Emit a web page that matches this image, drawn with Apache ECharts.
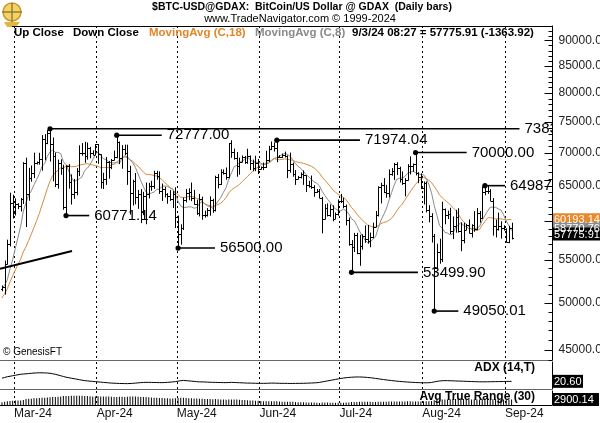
<!DOCTYPE html>
<html><head><meta charset="utf-8">
<script src="https://cdn.jsdelivr.net/npm/echarts@6/dist/echarts.min.js"></script>
<style>html,body{margin:0;padding:0;background:#fff}#c{width:600px;height:423px}</style>
</head><body><div id="c"></div>
<script>
// ---------------- DATA ----------------
const startDate = '2024-02-25'; // first daily bar, one bar per calendar day
const opens = [51570,51730,54490,57050,62500,
61170,62430,62030,63140,68300,63780,66100,66900,68300,68490,69000,72100,71480,73080,71400,69400,65300,68400,67600,61930,67900,65500,63780,64050,67200,69960,69990,69450,70770,69900,69650,
71300,69700,65460,65970,68500,67840,68900,69360,71620,69140,70630,70000,67130,63900,65700,63420,63800,61280,63470,63800,64950,64930,66820,66400,64280,64500,63770,63460,63100,63840,
60610,58250,59120,62890,63890,64030,63160,62310,61190,63070,60800,60820,61480,62930,61560,66270,65230,67030,66920,66270,71440,70140,69140,67930,68550,69290,68500,69400,68360,67630,68360,
67520,67750,67760,68810,70560,71080,70790,69350,69310,69650,69510,67320,68240,66760,66000,66190,66640,66490,65150,64950,64840,64100,64240,63210,60300,61800,60840,61650,60330,60950,
62720,62840,62020,60200,57040,56630,58230,55850,56700,57990,57700,57340,57890,59200,60800,64750,65050,64090,63970,66700,67150,68170,67570,65920,65370,65780,67900,67880,68260,66800,66200,
64620,65350,61500,60700,58100,54020,56040,55100,61700,60890,60920,58720,59350,60600,58730,57540,58900,59480,58440,59490,59030,61170,60380,64090,64170,64230,62850,59400,59000,59370,59100,
58950,57320,59139.83];
const highs = [51950,54940,57570,63970,63680,
63160,62480,63220,68510,69200,67630,68000,69980,68600,69950,72800,72950,73650,73835.57,72400,70000,68900,68940,68100,68030,68200,66650,65970,67600,71150,71500,71700,71600,70900,70350,71350,
71350,69700,66900,69300,68700,69000,70300,72777,71750,71170,71250,71240,67950,65870,66870,64370,64480,64100,65450,65400,65700,67200,67200,67100,65300,64800,63900,64350,64200,64750,
60780,59600,63300,64500,64600,65450,64380,62980,63800,63400,61450,61800,63450,63100,66450,66700,67420,67400,67700,71500,71950,70620,70080,69200,69550,69480,70600,69550,68900,69500,69000,
67850,68440,70280,71060,71750,71600,71974.04,69580,69850,70150,69560,69990,68440,67300,66400,66950,67250,66490,65700,66480,65050,64500,64500,63370,62350,62450,62300,62200,61190,63000,
63800,63250,62300,60500,57520,58450,58460,58200,58280,59450,59500,58500,59800,61400,64900,65400,66100,65100,67400,67600,68370,68500,67800,67100,66100,68200,69400,68300,70000,66990,66800,
65600,65600,62200,61100,58300,57050,57700,62700,61750,61450,61850,60650,61550,61780,59850,59800,59650,60250,59600,61380,61800,61400,64850,64987,64950,64480,63200,60230,61170,60000,59450,
59060,59400,59800];
const lows = [51280,50900,54450,56700,60370,
60790,61650,61330,62370,59220,62820,65570,66100,68140,68120,67200,68800,71330,68600,65630,64780,64550,66600,61570,60771.14,64550,62300,63100,63600,66400,69500,68400,68900,69100,69590,69600,
68250,64550,64500,65100,66000,67450,68800,69100,68200,67500,69580,65100,60900,62150,62330,61700,59750,60830,59600,63150,64250,64520,65860,63800,62800,63300,62400,62800,61800,59100,
56500,56930,58830,62600,62900,62770,62280,60860,60650,60200,60500,60630,60750,61140,61330,64600,65100,66620,65860,66060,69180,68900,66300,66600,68500,68240,68250,67300,67120,67130,66700,
67390,67300,67610,68550,70380,70150,68500,69200,69150,69230,66100,66900,66300,65100,65900,66050,65100,64060,64700,64520,63380,63950,63200,58400,60250,60650,60600,60000,60300,60750,
62500,61780,59450,56800,53499.90,56000,55730,54300,56300,57170,57050,56600,57760,59200,60650,62450,63900,63250,63300,66450,65800,66550,65450,65100,63450,65740,66650,67050,66500,65350,64500,
62300,61200,59850,57200,49050.01,53950,54550,54750,59600,60300,58300,57650,58480,58500,56100,57100,58800,58400,57850,58600,58800,59800,60350,63600,63800,62800,58100,57860,58750,57700,58750,
57200,57120,57600];
const closes = [51730,54490,57050,62500,61170,
62430,62030,63140,68300,63780,66100,66900,68300,68490,69000,72100,71480,73080,71400,69400,65300,68400,67600,61930,67900,65500,63780,64050,67200,69960,69990,69450,70770,69900,69650,71300,
69700,65460,65970,68500,67840,68900,69360,71620,69140,70630,70000,67130,63900,65700,63420,63800,61280,63470,63800,64950,64930,66820,66400,64280,64500,63770,63460,63100,63840,60610,
58250,59120,62890,63890,64030,63160,62310,61190,63070,60800,60820,61480,62930,61560,66270,65230,67030,66920,66270,71440,70140,69140,67930,68550,69290,68500,69400,68360,67630,68360,67520,
67750,67760,68810,70560,71080,70790,69350,69310,69650,69510,67320,68240,66760,66000,66190,66640,66490,65150,64950,64840,64100,64240,63210,60300,61800,60840,61650,60330,60950,62720,
62840,62020,60200,57040,56630,58230,55850,56700,57990,57700,57340,57890,59200,60800,64750,65050,64090,63970,66700,67150,68170,67570,65920,65370,65780,67900,67880,68260,66800,66200,64620,
65350,61500,60700,58100,54020,56040,55100,61700,60890,60920,58720,59350,60600,58730,57540,58900,59480,58440,59490,59030,61170,60380,64090,64170,64230,62850,59400,59000,59370,59100,58950,
57320,59139.83,57775.91];
const ma18 = [50510,51020,51570,52380,53100,
53790,54480,55110,56020,56660,57470,58290,59200,60100,61060,62210,63360,64560,65650,66480,66940,67270,67620,67600,67920,68050,67800,67820,67880,68050,68140,68200,68290,68170,68070,67970,
67880,67660,67700,67700,67710,68100,68180,68520,68820,69190,69340,69180,68850,68640,68230,67890,67430,66990,66660,66630,66580,66480,66400,66150,65880,65440,65120,64710,64360,64000,
63690,63320,63290,63300,63450,63430,63350,63140,63040,62700,62390,62240,62150,62030,62180,62300,62480,62830,63280,63960,64360,64660,64870,65170,65560,65970,66320,66740,67120,67500,67750,
68100,68180,68380,68570,68810,69060,68940,68890,68920,69010,68940,68880,68790,68600,68480,68420,68320,68190,68030,67870,67610,67260,66820,66240,65820,65350,64900,64390,64040,63730,
63510,63290,62960,62430,61880,61490,60990,60540,60200,59830,59510,59370,59230,59230,59400,59660,59840,59910,60120,60400,60850,61430,61950,62350,62900,63520,64070,64660,65180,65640,65940,
66200,66020,65770,65440,64890,64300,63630,63270,62900,62620,62250,61890,61490,60980,60380,59940,59570,59230,58900,58760,58790,58920,59480,59930,60440,60500,60420,60310,60350,60330,60240,
60160,60250,60193.14];
const ma8 = [51670,51970,52630,53900,55070,
56460,57870,59320,61390,62550,63680,64230,65120,65880,66750,67870,68270,69430,70090,70410,70030,70020,69850,68570,68130,67180,66230,65560,65800,65990,66290,67230,67590,68140,68870,69780,
70090,69530,69030,68910,68540,68420,68380,68420,68350,69000,69500,69330,68840,68440,67690,66720,65730,64840,64060,63790,63920,64060,64430,64490,64890,64930,64890,64660,64520,63750,
62730,62080,61880,61900,61970,61970,61780,61860,62460,62670,62410,62110,61970,61770,62270,62770,63270,64030,64710,65960,66860,67810,68010,68430,68710,68910,69300,68910,68600,68500,68450,
68350,68160,68200,68340,68680,69080,69200,69430,69660,69880,69700,69410,68870,68270,67870,67540,67140,66600,66300,65880,65550,65330,64950,64160,63570,63040,62620,62060,61670,61480,
61430,61640,61440,60970,60340,60080,59440,58690,58080,57540,57190,57290,57610,57930,59050,60090,60850,61640,62810,63960,65090,65930,66080,66120,66330,66820,66970,67110,66940,66760,66600,
66600,66060,65160,63940,62160,60820,59430,59060,58510,58430,58190,58340,59170,59500,59810,59460,59280,58970,59070,59030,59100,59300,60120,60780,61380,61930,61920,61910,61690,61530,60880,
60030,59390,58770.76];
const adx = [27,28.5,30,31,32,
33,34,35,35.5,36,36.5,37,37.5,37.8,38,38,37.8,37.5,37,36,35,33.5,32,30.5,29,28,27,26,25,24,23,22,21.5,21,20.5,20,
19.5,19,18.5,18,17.5,17,16.8,16.5,16.3,16.2,16,16,16.2,16.5,17,17.5,18,18.3,18.5,18.5,18.4,18.3,18.2,18,18,18.2,18.5,19,19.5,20,
21,22,22.5,22,21.5,21,20.5,20,19.5,19.5,19.3,19,18.8,18.5,18.5,18.3,18.2,18,18,18.2,18.5,18.3,18,17.8,17.5,17.3,17,17,16.8,16.7,16.5,
16.5,16.5,16.6,16.8,17,17,16.8,16.6,16.5,16.5,16.4,16.3,16.3,16.4,16.5,16.5,16.6,16.8,17,17.2,17.5,17.8,18.5,19.5,20.5,21.5,22.5,23.5,24.5,25.5,
26.5,27.3,28,28.5,29,29.3,29.5,29.5,29.3,29,28.5,28,27.3,26.5,25.8,25,24.2,23.5,22.8,22.2,21.6,21,20.5,20,19.6,19.2,18.8,18.5,18.2,18,17.8,
17.7,17.6,17.8,18.3,19.5,20.5,21.3,21.8,22,22,21.8,21.6,21.4,21.2,21,20.8,20.6,20.4,20.2,20,19.8,19.7,19.6,19.6,19.7,19.8,19.9,20,20.1,20.2,20.3,
20.4,20.5,20.6];
const atr = [2100,2200,2350,2450,2550,
2600,2600,2650,2800,3100,3150,3200,3300,3300,3400,3450,3500,3550,3600,3700,3750,3800,3850,4000,4050,4050,4100,4100,4100,4100,4100,4050,4000,3950,3900,3900,
3950,3900,3900,3900,3850,3800,3750,3750,3800,3800,3750,3800,3900,3850,3850,3800,3750,3700,3700,3650,3550,3500,3450,3400,3400,3350,3300,3250,3250,3300,
3400,3450,3450,3400,3350,3300,3250,3250,3200,3150,3100,3100,3050,3000,3050,3000,2950,2900,2850,2950,2950,2900,2900,2850,2800,2750,2700,2650,2600,2550,2500,
2450,2400,2400,2400,2400,2350,2350,2300,2250,2200,2250,2250,2200,2150,2100,2050,2050,2000,1950,1950,1950,1900,1850,1950,1950,1950,1900,1900,1900,1900,
1900,1900,1950,2000,2150,2150,2150,2200,2200,2200,2200,2200,2150,2150,2250,2250,2250,2250,2300,2300,2300,2300,2300,2300,2300,2350,2350,2300,2300,2300,2300,
2350,2400,2400,2450,2700,2750,2800,2950,2950,2950,3000,3000,3050,3050,3050,3050,3000,3000,2950,2950,2950,2950,3000,2950,2950,2950,3000,3000,2950,2950,2900,
2900,2900,2900.14];
const monthStarts = ['2024-03-01','2024-04-01','2024-05-01','2024-06-01','2024-07-01','2024-08-01','2024-09-01'];
const priceTicks = [45000,50000,55000,60000,65000,70000,75000,80000,85000,90000];
// annotated extremes: date of bar, price, date where the leader line ends
const annDates  = ['2024-03-14','2024-03-20','2024-04-08','2024-05-01','2024-06-07','2024-07-05','2024-07-29','2024-08-05','2024-08-24'];
const annPrices = [73835.57,60771.14,72777.00,56500.00,71974.04,53499.90,70000.00,49050.01,64987.00];
const annEnds   = ['2024-09-06T11:00','2024-03-29T05:00','2024-04-25T09:00','2024-05-15T08:00','2024-07-08T16:00','2024-07-30T10:00','2024-08-17T16:00','2024-08-14T13:00','2024-09-01T01:00'];
const trendDates  = ['2024-02-24T18:00','2024-03-22T18:00'];
const trendPrices = [53920,56130];
const lastClose = 57775.91, lastAdx = 20.60, lastAtr = 2900.14;

// ---------------- CHART ----------------
const DAY = 864e5;
const utc = s => Date.parse(s.length > 10 ? s + ':00Z' : s + 'T00:00:00Z');
const t0 = utc(startDate);
const times = closes.map((_, i) => t0 + i * DAY + DAY / 2);
const mar1 = utc('2024-03-01');
const xMin = mar1 - 5.25 * DAY, xMax = mar1 + 201.65 * DAY;
const monthValues = monthStarts.map(utc);
const MONTHS = ['Jan','Feb','Mar','Apr','May','Jun','Jul','Aug','Sep','Oct','Nov','Dec'];
const fmtMonth = v => { const d = new Date(v); return MONTHS[d.getUTCMonth()] + '-' + String(d.getUTCFullYear()).slice(2); };
const FONT = '"Liberation Sans", Arial, sans-serif';

function xAxisDef(i, showLabels, lineColor) {
  return {
    type: 'value', gridIndex: i, min: xMin, max: xMax, scale: true,
    axisLine: { show: true, onZero: false, lineStyle: { color: lineColor, width: 1 } },
    axisTick: { show: false, customValues: monthValues },
    axisLabel: { show: showLabels, customValues: monthValues, formatter: v => fmtMonth(v), align: 'left',
      color: '#111', fontSize: 12, fontFamily: FONT, margin: 3, showMinLabel: true, showMaxLabel: true },
    splitLine: { show: true, lineStyle: { color: '#000', type: [2, 3], width: 1 } }
  };
}
function yAxisDef(i, type, min, max) {
  const a = { type, gridIndex: i, min, max, position: 'right',
    axisLine: { show: true, onZero: false, lineStyle: { color: '#000', width: 1 } },
    axisTick: { show: false }, axisLabel: { show: false }, splitLine: { show: false } };
  if (type === 'log') a.logBase = 10;
  return a;
}

function renderOHLC(params, api) {
  const t = api.value(0);
  const pO = api.coord([t, api.value(1)]);
  const pH = api.coord([t, api.value(2)]);
  const pL = api.coord([t, api.value(3)]);
  const pC = api.coord([t, api.value(4)]);
  const x = Math.round(pH[0]) + 0.5;
  const yo = Math.round(pO[1]) + 0.5, yc = Math.round(pC[1]) + 0.5;
  const style = { stroke: '#000', lineWidth: 1 };
  return { type: 'group', children: [
    { type: 'line', shape: { x1: x, y1: pH[1], x2: x, y2: pL[1] }, style },
    { type: 'line', shape: { x1: x - 1.5, y1: yo, x2: x, y2: yo }, style },
    { type: 'line', shape: { x1: x, y1: yc, x2: x + 1.5, y2: yc }, style }
  ]};
}
function renderAnn(params, api) {
  const p = api.coord([api.value(0), api.value(1)]);
  const e = api.coord([api.value(2), api.value(1)]);
  const label = annPrices[params.dataIndex].toFixed(2);
  return { type: 'group', children: [
    { type: 'line', shape: { x1: p[0], y1: p[1], x2: e[0], y2: p[1] }, style: { stroke: '#000', lineWidth: 1.6 } },
    { type: 'circle', shape: { cx: p[0], cy: p[1], r: 2.6 }, style: { fill: '#000' } },
    { type: 'text', x: e[0] + 5, y: p[1], style: { text: label, fill: '#000', font: '15px ' + FONT,
      align: 'left', verticalAlign: 'middle', textAlign: 'left', textVerticalAlign: 'middle' } }
  ]};
}

const chart = echarts.init(document.getElementById('c'), null, { renderer: 'canvas' });
const option = {
  animation: false,
  backgroundColor: '#fff',
  grid: [
    { left: 0, right: 48, top: 26, height: 334 },
    { left: 0, right: 48, top: 362, height: 27 },
    { left: 0, right: 48, top: 391, height: 14 }
  ],
  xAxis: [ xAxisDef(0, false, '#666'), xAxisDef(1, false, '#666'), xAxisDef(2, true, '#000') ],
  yAxis: [ yAxisDef(0, 'log', 43953, 92975), yAxisDef(1, 'value', 5, 60), yAxisDef(2, 'value', 1200, 5600) ],
  series: [
    { type: 'line', name: 'MA18', xAxisIndex: 0, yAxisIndex: 0, data: times.map((t, i) => [t, ma18[i]]),
      showSymbol: false, symbol: 'none', lineStyle: { color: '#d68a3c', width: 1 }, z: 3 },
    { type: 'line', name: 'MA8', xAxisIndex: 0, yAxisIndex: 0, data: times.map((t, i) => [t, ma8[i]]),
      showSymbol: false, symbol: 'none', lineStyle: { color: '#8a8a8a', width: 1 }, z: 3 },
    { type: 'custom', name: 'OHLC', xAxisIndex: 0, yAxisIndex: 0, renderItem: renderOHLC, clip: true,
      encode: { x: 0, y: [1, 2, 3, 4] }, data: times.map((t, i) => [t, opens[i], highs[i], lows[i], closes[i]]), z: 4 },
    { type: 'line', name: 'Trend', xAxisIndex: 0, yAxisIndex: 0, data: trendDates.map((d, i) => [utc(d), trendPrices[i]]),
      showSymbol: false, symbol: 'none', lineStyle: { color: '#000', width: 2 }, z: 5 },
    { type: 'custom', name: 'Ann', xAxisIndex: 0, yAxisIndex: 0, renderItem: renderAnn, clip: true,
      encode: { x: [0, 2], y: 1 }, data: annDates.map((d, i) => [utc(d) + DAY / 2, annPrices[i], utc(annEnds[i])]), z: 6 },
    { type: 'line', name: 'ADX', xAxisIndex: 1, yAxisIndex: 1, data: times.map((t, i) => [t, adx[i]]),
      showSymbol: false, symbol: 'none', lineStyle: { color: '#000', width: 1 } },
    { type: 'bar', name: 'ATR', xAxisIndex: 2, yAxisIndex: 2, data: times.map((t, i) => [t, atr[i]]),
      barWidth: 1, itemStyle: { color: '#000' } }
  ]
};
chart.setOption(option);

// ---------- axis ticks, labels and value boxes placed through the axes' own scales ----------
const py = v => chart.convertToPixel({ yAxisIndex: 0 }, v);
const axisX = Math.round(chart.convertToPixel({ xAxisIndex: 0 }, xMax)) + 0.5;
const txt = (x, y, text, font, fill, align, z) => ({ type: 'text', x, y, z: z || 100,
  style: { text, font, fill, align: align || 'left', verticalAlign: 'middle', textAlign: align || 'left', textVerticalAlign: 'middle' } });
const els = [];
// logo (decorative)
els.push({ type: 'circle', shape: { cx: 12, cy: 12, r: 9 }, style: { fill: '#f1d36a', stroke: '#c99a2e', lineWidth: 1.5 }, z: 100 });
els.push({ type: 'polygon', shape: { points: [[4, 22], [20, 22], [16, 27], [7, 27]] }, style: { fill: '#e0b540' }, z: 100 });
els.push({ type: 'line', shape: { x1: 2, y1: 12, x2: 22, y2: 12 }, style: { stroke: '#8a6a1a', lineWidth: 1.2 }, z: 101 });
els.push({ type: 'line', shape: { x1: 12, y1: 3, x2: 12, y2: 22 }, style: { stroke: '#8a6a1a', lineWidth: 1.2 }, z: 101 });
// headers
els.push(txt(302, 7, '$BTC-USD@GDAX:  BitCoin/US Dollar @ GDAX  (Daily bars)', 'bold 10.5px ' + FONT, '#000', 'center'));
els.push(txt(300, 19, 'www.TradeNavigator.com \u00A9 1999-2024', '11px ' + FONT, '#000', 'center'));
els.push({ type: 'line', shape: { x1: 12, y1: 26.5, x2: axisX, y2: 26.5 }, style: { stroke: '#000', lineWidth: 1 }, z: 100 });
const lf = 'bold 11.5px ' + FONT;
els.push(txt(14, 33, 'Up Close', lf, '#000'));
els.push(txt(73, 33, 'Down Close', lf, '#000'));
els.push(txt(149, 33, 'MovingAvg (C,18)', lf, '#e0862a'));
els.push(txt(255, 33, 'MovingAvg (C,8)', lf, '#8a8a8a'));
els.push(txt(352, 33, '9/3/24 08:27 = 57775.91 (-1363.92)', lf, '#000'));
els.push(txt(3, 352, '\u00A9 GenesisFT', '10px ' + FONT, '#000'));
els.push(txt(535, 368, 'ADX (14,T)', 'bold 12px ' + FONT, '#000', 'right'));
els.push(txt(535, 397, 'Avg True Range (30)', 'bold 12px ' + FONT, '#000', 'right'));
// price axis ticks
for (let v = 44000; v <= 92000; v += 1000) {
  const y = Math.round(py(v)) + 0.5;
  const major = priceTicks.indexOf(v) >= 0;
  els.push({ type: 'line', shape: { x1: axisX - (major ? 8 : 4), y1: y, x2: axisX, y2: y }, style: { stroke: '#000', lineWidth: 1 }, z: 100 });
}
priceTicks.forEach(v => els.push(txt(axisX + 6, py(v), v.toFixed(2), '12px ' + FONT, '#222')));
// value boxes
const box = (yc, text, bg, fg, w, font) => {
  els.push({ type: 'rect', shape: { x: axisX + 0.5, y: yc - 6.5, width: w, height: 13 }, style: { fill: bg }, z: 110 });
  els.push(txt(axisX + 1.5, yc + 0.5, text, font || '11px ' + FONT, fg, 'left', 111));
};
box(py(ma18[ma18.length - 1]), ma18[ma18.length - 1].toFixed(2), '#e8892b', '#fff', 48);
box(py(ma8[ma8.length - 1]) - 2, ma8[ma8.length - 1].toFixed(2), '#8c8c8c', '#fff', 48);
box(py(lastClose) - 4, lastClose.toFixed(2), '#000', '#fff', 48);
box(chart.convertToPixel({ yAxisIndex: 1 }, lastAdx), lastAdx.toFixed(2), '#000', '#fff', 30, '11px ' + FONT);
box(chart.convertToPixel({ yAxisIndex: 2 }, lastAtr), lastAtr.toFixed(2), '#000', '#fff', 46);
chart.setOption({ graphic: { elements: els } });
</script>
</body></html>
